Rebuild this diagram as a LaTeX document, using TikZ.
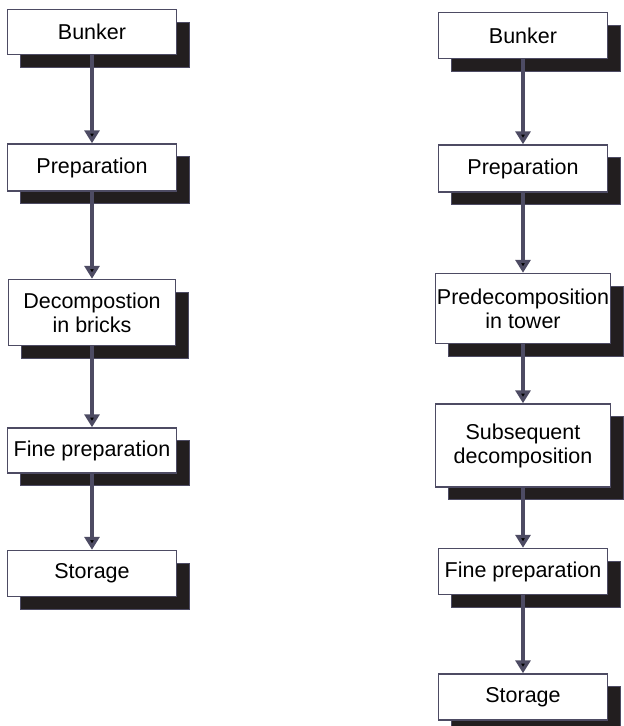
\documentclass[tikz,border=0pt]{standalone}
\usepackage{fontspec}
\setmainfont{Liberation Sans}
\usepackage{tikz}
\usetikzlibrary{shapes,shadows}
\usetikzlibrary{arrows.meta,positioning}
\definecolor{boxline}{HTML}{4D4B63}
\definecolor{shadowfill}{HTML}{221E1F}
\tikzstyle{box node}=[rectangle, draw=boxline, line width=1.5pt, fill=white, align=center,
  minimum width=169pt, minimum height=46pt, inner xsep=1pt, inner ysep=2pt,
  font=\fontsize{21.5}{24}\selectfont,
  general shadow={shadow xshift=12.5pt, shadow yshift=-12.5pt, fill=shadowfill, draw=boxline, line width=1pt}]
\tikzstyle{flow}=[draw=boxline, line width=3.5pt, -{Triangle[width=15pt,length=13pt]}]

\begin{document}
\begin{tikzpicture}[x=1pt, y=1pt]
\useasboundingbox (0,0) rectangle (624,-726);
%
% bricks line
  \node[box node, minimum height=45pt] (1) at (92,-32) {Bunker};
  \node[box node, minimum height=47pt] (2) [below=88pt of 1] {Preparation};
  \node[box node, minimum height=66pt, minimum width=167pt] (3) [below=87pt of 2] {Decompostion\\in bricks};
  \node[box node, minimum height=45pt] (4) [below=81pt of 3] {Fine preparation};
  \node[box node, minimum height=46pt] (5) [below=76pt of 4] {Storage};
% tower line
  \node[box node, minimum height=46pt] (6) at (523,-35.5) {Bunker};
  \node[box node, minimum height=47pt] (7) [below=85pt of 6] {Preparation};
  \node[box node, minimum height=70pt, minimum width=175pt] (8) [below=80pt of 7] {Predecomposition\\in tower};
  \node[box node, minimum height=83pt, minimum width=175pt] (9) [below=59pt of 8] {Subsequent\\decomposition};
  \node[box node, minimum height=46pt] (10) [below=60pt of 9] {Fine preparation};
  \node[box node, minimum height=46pt] (11) [below=78pt of 10] {Storage};
 \path[flow]
	(1) edge (2)
	(2) edge (3)
	(3) edge (4)
	(4) edge (5)
	(6) edge (7)
	(7) edge (8)
	(8) edge (9)
	(9) edge (10)
	(10) edge (11);
%
\end{tikzpicture}
\end{document}
